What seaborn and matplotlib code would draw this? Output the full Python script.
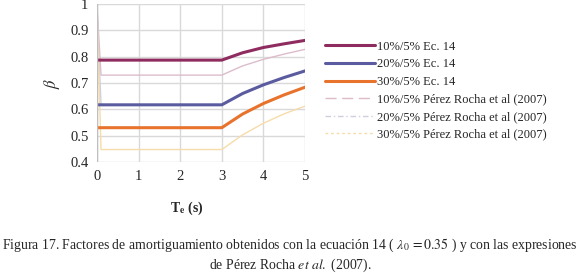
import matplotlib
matplotlib.use("Agg")
import matplotlib.pyplot as plt
import seaborn as sns
import pandas as pd
from matplotlib.lines import Line2D

# periodo (s) y factores beta
t_ec14 = [0.0, 3.0, 3.5, 4.0, 4.5, 5.0]
b_10_ec14 = [0.787, 0.787, 0.815, 0.835, 0.849, 0.862]
b_20_ec14 = [0.617, 0.617, 0.660, 0.693, 0.721, 0.746]
b_30_ec14 = [0.530, 0.530, 0.582, 0.622, 0.655, 0.684]

t_pr = [0.0, 0.1, 3.0, 3.5, 4.0, 4.5, 5.0]
b_10_pr = [1.0, 0.730, 0.730, 0.765, 0.790, 0.810, 0.828]
b_20_pr = [1.0, 0.617, 0.617, 0.660, 0.693, 0.721, 0.746]
b_30_pr = [1.0, 0.447, 0.447, 0.503, 0.547, 0.583, 0.612]

labels = ["10%/5% Ec. 14", "20%/5% Ec. 14", "30%/5% Ec. 14",
          "10%/5% Pérez Rocha et al (2007)",
          "20%/5% Pérez Rocha et al (2007)",
          "30%/5% Pérez Rocha et al (2007)"]

sns.set_style("white")
plt.rcParams['font.family'] = ['Liberation Serif', 'DejaVu Serif']
plt.rcParams['mathtext.fontset'] = 'stix'

fig = plt.figure(figsize=(5.8, 2.73), dpi=100)
ax = fig.add_axes([0.167, 0.407, 0.359, 0.578])

thin = [(b_10_pr, "#dcbccb", (0, (8, 4))),
        (b_20_pr, "#cfcfe0", (0, (4, 2, 1, 2))),
        (b_30_pr, "#f6dcaa", (0, (2, 2)))]
thick = [(b_10_ec14, "#8e2c5f"), (b_20_ec14, "#5b5b9f"), (b_30_ec14, "#e8732c")]

for y, c, ls in thin:
    sns.lineplot(x=t_pr, y=y, ax=ax, color=c, lw=1.0)
for y, c in thick:
    sns.lineplot(x=t_ec14, y=y, ax=ax, color=c, lw=2.2)

ax.set_xlim(0, 5)
ax.set_ylim(0.4, 1.0)
ax.set_xticks(range(0, 6))
ax.set_yticks([0.4, 0.5, 0.6, 0.7, 0.8, 0.9, 1.0])
ax.set_yticklabels(["0.4", "0.5", "0.6", "0.7", "0.8", "0.9", "1"])
ax.grid(True, color="#d9d9d9", lw=1.0)
for s in ax.spines.values():
    s.set_visible(False)
ax.axvline(0, color="#bfbfbf", lw=1.0)
ax.tick_params(labelsize=10.5, length=0, pad=6)
ax.set_xlabel("")
ax.set_ylabel(r"$\beta$", fontsize=12, labelpad=6)

handles = [Line2D([], [], color=c, lw=2.2) for _, c in thick] + \
          [Line2D([], [], color=c, lw=1.0, ls=ls) for _, c, ls in thin]
ax.legend(handles, labels, loc="upper left", bbox_to_anchor=(1.07, 0.80),
          frameon=False, fontsize=9.0, handlelength=4.0, handletextpad=0.2,
          labelspacing=0.45, borderaxespad=0)

fig.text(0.322, 0.238, r"T$_\mathbf{e}$ (s)", fontsize=10, fontweight="bold",
         ha="center", va="center")
fig.text(0.5, 0.10,
         r"Figura 17. Factores de amortiguamiento obtenidos con la ecuación 14 ( $\lambda_0\,=0.35$ ) y con las expresiones",
         fontsize=9.9, ha="center", va="center")
fig.text(0.5, 0.028, r"de Pérez Rocha $\mathit{et\ al.}$ (2007).", fontsize=9.9,
         ha="center", va="center")

fig.savefig("out.png", dpi=100)
